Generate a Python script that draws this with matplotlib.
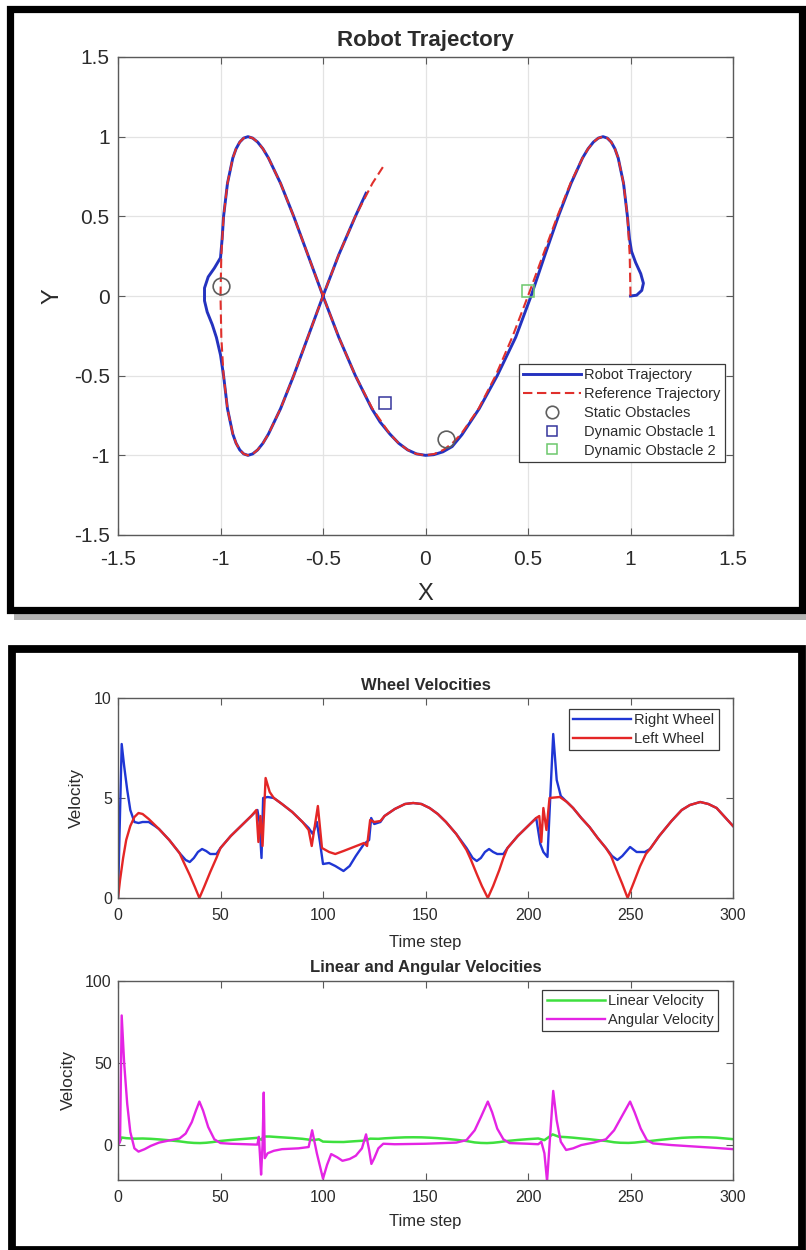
import matplotlib.pyplot as plt
from matplotlib.patches import Rectangle

plt.rcParams['font.family'] = ['Liberation Sans', 'DejaVu Sans']

# Reference trajectory (x, y)
ref_x = [1.000, 0.996, 0.985, 0.966, 0.940, 0.924, 0.906, 0.887, 0.866, 0.843,
         0.819, 0.793, 0.766, 0.707, 0.643, 0.574, 0.500, 0.423, 0.342, 0.259,
         0.174, 0.131, 0.087, 0.044, 0.000, -0.044, -0.087, -0.131, -0.174, -0.259,
         -0.342, -0.423, -0.500, -0.574, -0.643, -0.707, -0.766, -0.793, -0.819, -0.843,
         -0.866, -0.887, -0.906, -0.924, -0.940, -0.966, -0.985, -0.996, -1.000, -0.996,
         -0.985, -0.966, -0.940, -0.924, -0.906, -0.887, -0.866, -0.843, -0.819, -0.793,
         -0.766, -0.707, -0.643, -0.574, -0.500, -0.423, -0.342, -0.259, -0.208]
ref_y = [0.000, 0.259, 0.500, 0.707, 0.866, 0.924, 0.966, 0.991, 1.000, 0.991,
         0.966, 0.924, 0.866, 0.707, 0.500, 0.259, 0.000, -0.259, -0.500, -0.707,
         -0.866, -0.924, -0.966, -0.991, -1.000, -0.991, -0.966, -0.924, -0.866, -0.707,
         -0.500, -0.259, 0.000, 0.259, 0.500, 0.707, 0.866, 0.924, 0.966, 0.991,
         1.000, 0.991, 0.966, 0.924, 0.866, 0.707, 0.500, 0.259, 0.000, -0.259,
         -0.500, -0.707, -0.866, -0.924, -0.966, -0.991, -1.000, -0.991, -0.966, -0.924,
         -0.866, -0.707, -0.500, -0.259, 0.000, 0.259, 0.500, 0.707, 0.809]

# Robot trajectory (x, y)
robot_x = [1.000, 1.030, 1.055, 1.063, 1.050, 1.025, 1.005, 0.995, 0.985, 0.966,
           0.940, 0.924, 0.906, 0.887, 0.866, 0.843, 0.819, 0.793, 0.766, 0.710,
           0.648, 0.583, 0.515, 0.440, 0.350, 0.262, 0.178, 0.130, 0.085, 0.040,
           0.000, -0.044, -0.087, -0.131, -0.174, -0.222, -0.262, -0.342, -0.423, -0.500,
           -0.574, -0.643, -0.707, -0.766, -0.793, -0.819, -0.843, -0.866, -0.887, -0.906,
           -0.924, -0.940, -0.966, -0.985, -0.992, -1.000, -1.030, -1.060, -1.078, -1.078,
           -1.065, -1.040, -1.020, -1.000, -0.985, -0.966, -0.940, -0.924, -0.906, -0.887,
           -0.866, -0.843, -0.819, -0.793, -0.766, -0.707, -0.643, -0.574, -0.500, -0.423,
           -0.342, -0.290]
robot_y = [0.000, 0.005, 0.035, 0.080, 0.140, 0.210, 0.280, 0.360, 0.500, 0.707,
           0.866, 0.924, 0.966, 0.991, 1.000, 0.991, 0.966, 0.924, 0.866, 0.707,
           0.500, 0.259, 0.000, -0.259, -0.500, -0.707, -0.870, -0.945, -0.978, -0.996,
           -1.000, -0.991, -0.966, -0.924, -0.866, -0.790, -0.707, -0.500, -0.259, 0.000,
           0.259, 0.500, 0.707, 0.866, 0.924, 0.966, 0.991, 1.000, 0.991, 0.966,
           0.924, 0.866, 0.707, 0.500, 0.360, 0.240, 0.175, 0.120, 0.050, -0.030,
           -0.100, -0.180, -0.260, -0.370, -0.500, -0.707, -0.866, -0.924, -0.966, -0.991,
           -1.000, -0.991, -0.966, -0.924, -0.866, -0.707, -0.500, -0.259, 0.000, 0.259,
           0.500, 0.645]

# Obstacles
static_x = [-1.0, 0.1]
static_y = [0.06, -0.9]
dyn1_x = [-0.2]
dyn1_y = [-0.67]
dyn2_x = [0.5]
dyn2_y = [0.03]

# Wheel velocities (time step, value)
right_t = [0, 1.8, 3, 4.5, 6, 8, 10, 12, 15, 18,
           20, 25, 30, 33, 35, 37, 39, 41, 43, 45,
           48, 50, 55, 60, 65, 68, 69, 70, 70.8, 73,
           76, 80, 85, 90, 93, 95, 97, 98.5, 100, 103,
           106, 110, 113, 116, 120, 122.5, 123.5, 125, 128, 130,
           135, 140, 144, 148, 152, 156, 160, 165, 170, 173,
           175, 177, 179, 181, 183, 185, 188, 190, 195, 200,
           204, 206, 207.5, 209.5, 212.3, 214, 216, 219, 222, 226,
           230, 234, 238, 241, 243.6, 246, 249.8, 253, 257, 259.5,
           264, 270, 275, 279, 284, 288, 292, 296, 300]
right_v = [0.0, 7.7, 6.6, 5.4, 4.4, 3.8, 3.75, 3.8, 3.8, 3.6,
           3.45, 2.9, 2.25, 1.9, 1.8, 2.0, 2.3, 2.45, 2.35, 2.2,
           2.2, 2.5, 3.1, 3.6, 4.1, 4.4, 3.8, 2.0, 5.0, 5.05,
           5.0, 4.7, 4.3, 3.8, 3.5, 3.2, 3.8, 2.8, 1.7, 1.75,
           1.6, 1.35, 1.6, 2.1, 2.7, 2.9, 4.0, 3.7, 3.8, 4.1,
           4.45, 4.7, 4.75, 4.7, 4.5, 4.2, 3.8, 3.2, 2.5, 2.0,
           1.85, 2.0, 2.3, 2.45, 2.3, 2.2, 2.2, 2.5, 3.1, 3.6,
           4.0, 2.7, 2.3, 2.05, 8.2, 5.9, 5.1, 4.8, 4.5, 4.0,
           3.55, 3.0, 2.5, 2.1, 1.9, 2.1, 2.55, 2.3, 2.3, 2.45,
           3.1, 3.85, 4.4, 4.65, 4.8, 4.7, 4.5, 4.05, 3.6]

left_t = [0, 1, 2.5, 4, 6, 8, 10, 12, 15, 18,
          20, 25, 30, 32, 35, 37.5, 39.7, 42, 45, 48,
          50, 55, 60, 65, 67.5, 68.5, 69.5, 70.5, 72, 74,
          76, 80, 85, 90, 93, 94.5, 97.5, 99.5, 103, 106,
          110, 115, 120, 121.5, 123, 125, 128, 130, 135, 140,
          144, 148, 152, 156, 160, 165, 170, 172, 175, 177.5,
          180.4, 183, 186, 188, 190, 195, 200, 204, 205.5, 206.5,
          207.5, 209, 210.5, 215.5, 219, 222, 226, 230, 234, 238,
          240.5, 243.2, 246, 248.6, 251.5, 254.6, 257.5, 259.5, 264, 270,
          275, 279, 284, 288, 292, 296, 300]
left_v = [0.0, 0.9, 2.0, 2.9, 3.6, 4.05, 4.25, 4.2, 3.95, 3.65,
          3.45, 2.9, 2.25, 1.8, 1.15, 0.55, 0.0, 0.55, 1.3, 2.0,
          2.5, 3.1, 3.6, 4.1, 4.4, 2.8, 4.1, 2.6, 6.0, 5.3,
          5.0, 4.7, 4.3, 3.8, 3.4, 2.6, 4.6, 2.5, 2.3, 2.2,
          2.35, 2.55, 2.75, 2.6, 3.9, 3.8, 3.85, 4.1, 4.45, 4.7,
          4.75, 4.7, 4.5, 4.2, 3.8, 3.2, 2.4, 1.95, 1.2, 0.6,
          0.0, 0.6, 1.4, 2.0, 2.5, 3.1, 3.6, 4.0, 4.1, 2.8,
          4.5, 3.4, 5.0, 5.05, 4.8, 4.5, 4.0, 3.55, 3.0, 2.5,
          2.1, 1.4, 0.7, 0.0, 0.75, 1.57, 2.2, 2.45, 3.1, 3.85,
          4.4, 4.65, 4.8, 4.7, 4.5, 4.05, 3.6]

# Linear and angular velocities (time step, value)
lin_t = [0, 1.8, 4, 8, 12, 16, 20, 25, 30, 34,
         37, 40, 43, 46, 50, 55, 60, 65, 68, 70,
         71, 74, 78, 85, 90, 95, 98, 100, 105, 110,
         115, 120, 123, 127, 130, 135, 140, 144, 148, 152,
         156, 160, 165, 170, 174, 177, 180, 183, 186, 190,
         195, 200, 205, 208, 212, 215, 219, 222, 226, 230,
         234, 238, 242, 245, 249, 252, 255, 259.5, 264, 270,
         275, 279, 284, 288, 292, 296, 300]
lin_v = [0.0, 4.6, 4.2, 3.9, 4.0, 3.8, 3.45, 2.9, 2.25, 1.6,
         1.3, 1.2, 1.4, 1.8, 2.5, 3.1, 3.6, 4.1, 4.4, 3.2,
         5.2, 5.2, 4.85, 4.3, 3.8, 3.0, 3.5, 2.1, 1.9, 1.85,
         2.3, 2.7, 3.9, 3.8, 4.1, 4.45, 4.7, 4.75, 4.7, 4.5,
         4.2, 3.8, 3.2, 2.45, 1.6, 1.3, 1.2, 1.4, 1.8, 2.5,
         3.1, 3.6, 4.0, 3.0, 6.5, 5.1, 4.8, 4.5, 4.0, 3.55,
         3.0, 2.5, 1.7, 1.4, 1.3, 1.5, 1.9, 2.45, 3.1, 3.85,
         4.4, 4.65, 4.8, 4.7, 4.5, 4.05, 3.6]

ang_t = [0, 1, 1.8, 3, 4.5, 6, 8, 10, 13, 16,
         20, 25, 30, 33, 36, 38, 39.7, 41.5, 44, 47,
         50, 55, 60, 67, 68, 68.7, 69.2, 69.8, 70.5, 71.1,
         71.6, 73, 76, 80, 88, 93, 94.7, 97, 100, 102,
         104, 107, 109.5, 113, 116, 119, 121, 122.5, 123.6, 125,
         127, 129.4, 135, 150, 165, 170, 174, 177, 180.4, 182.5,
         185, 188, 191, 200, 205, 206.5, 208, 209.3, 210.5, 212.3,
         214, 216, 218.6, 222, 226, 232, 238, 242, 246, 249.8,
         252, 255, 258, 261, 270, 280, 290, 300]
ang_v = [0, 2, 79, 50, 25, 8, -2, -4, -2.5, -0.5,
         1.5, 2.8, 4, 7, 14, 21, 26.5, 21, 11, 3.5,
         1.2, 0.8, 0.6, 0.3, 0.3, 5, -5, -18, 0, 32,
         -8, -5, -3.5, -2.5, -2, -1.2, 9, -5, -20.5, -12,
         -5.5, -7.5, -9.6, -8.5, -6.5, -2, 6.5, -3, -11.5, -8,
         -2, 0.8, 0.5, 0.8, 1.5, 3, 9, 17, 26.5, 20,
         10, 3.5, 1.2, 0.8, 0.5, 2, -5, -22, 0, 33,
         15, 2, -3, -2, 0, 1.5, 3.5, 9, 18, 26.5,
         20, 10, 3, 1, 0, -0.8, -1.6, -2.5]

TXT = '#2b2b2b'
AXC = '#5a5a5a'


# figure-pixel helpers (figure is 806 x 1250 px)
def fx(px):
    return px / 806.0


def fy(py):
    return 1.0 - py / 1250.0


def style_axes(ax, tick_size, xpad, ypad):
    ax.tick_params(direction='in', top=True, right=True, length=5, width=0.8,
                   colors=AXC, labelcolor=TXT, labelsize=tick_size)
    ax.tick_params(axis='x', pad=xpad)
    ax.tick_params(axis='y', pad=ypad)
    for sp in ax.spines.values():
        sp.set_color(AXC)
        sp.set_linewidth(1.0)


def make_legend(ax, anchor, size, spacing=0.3, markerscale=1.0):
    leg = ax.legend(loc='upper right', bbox_to_anchor=anchor, fontsize=size,
                    frameon=True, fancybox=False, framealpha=1, edgecolor='#3a3a3a',
                    borderpad=0.3, handlelength=4.0, handletextpad=0.2,
                    labelspacing=spacing, markerscale=markerscale, borderaxespad=0)
    leg.get_frame().set_linewidth(0.9)
    for t in leg.get_texts():
        t.set_color(TXT)
    return leg


fig = plt.figure(figsize=(8.06, 12.5), dpi=100)

# ---- panel frames ----
fig.add_artist(Rectangle((fx(14), fy(620)), fx(806) - fx(14), fy(612) - fy(620),
                         transform=fig.transFigure, facecolor='#b4b4b4', edgecolor='none'))
fig.add_artist(Rectangle((fx(9.5), fy(609.5)), fx(802) - fx(9.5), fy(8.5) - fy(609.5),
                         transform=fig.transFigure, fill=False, edgecolor='black', lw=5.2))
fig.add_artist(Rectangle((fx(11.5), fy(1250)), fx(802) - fx(11.5), fy(649) - fy(1250),
                         transform=fig.transFigure, fill=False, edgecolor='black', lw=5.6))

# ---- robot trajectory ----
ax = fig.add_axes([fx(118), fy(535), fx(733) - fx(118), fy(57) - fy(535)])
ax.plot(robot_x, robot_y, color='#2432bf', lw=2.1, label='Robot Trajectory', zorder=3)
ax.plot(ref_x, ref_y, '--', color='#e0302c', lw=1.5, dashes=(4.5, 2.2),
        label='Reference Trajectory', zorder=4)
ax.plot(static_x, static_y, 'o', ms=12, mfc='none', mec='#5e5e5e', mew=1.2,
        ls='none', label='Static Obstacles', zorder=5)
ax.plot(dyn1_x, dyn1_y, 's', ms=9, mfc='none', mec='#36369c', mew=1.1,
        ls='none', label='Dynamic Obstacle 1', zorder=5)
ax.plot(dyn2_x, dyn2_y, 's', ms=9, mfc='none', mec='#6cc86c', mew=1.1,
        ls='none', label='Dynamic Obstacle 2', zorder=5)
ax.set_xlim(-1.5, 1.5)
ax.set_ylim(-1.5, 1.5)
ax.set_xticks([-1.5, -1, -0.5, 0, 0.5, 1, 1.5])
ax.set_yticks([-1.5, -1, -0.5, 0, 0.5, 1, 1.5])
ax.set_xticklabels(['-1.5', '-1', '-0.5', '0', '0.5', '1', '1.5'])
ax.set_yticklabels(['-1.5', '-1', '-0.5', '0', '0.5', '1', '1.5'])
ax.grid(True, color='#e3e3e3', lw=0.9)
ax.set_axisbelow(True)
style_axes(ax, 15, 11, 6)
ax.set_title('Robot Trajectory', fontsize=16, fontweight='bold', color=TXT,
             y=1.034, va='center', pad=0)
ax.set_xlabel('X', fontsize=17, color=TXT)
ax.xaxis.set_label_coords(0.5, -0.124)
ax.xaxis.label.set_va('center')
ax.set_ylabel('Y', fontsize=17, color=TXT)
ax.yaxis.set_label_coords(-0.106, 0.5)
ax.yaxis.label.set_va('center')
make_legend(ax, (0.987, 0.358), 10.5, spacing=0.33, markerscale=0.75)

# ---- wheel velocities ----
ax1 = fig.add_axes([fx(118), fy(898), fx(733) - fx(118), fy(698) - fy(898)])
ax1.plot(right_t, right_v, color='#1f36d4', lw=1.7, label='Right Wheel')
ax1.plot(left_t, left_v, color='#e42626', lw=1.7, label='Left Wheel')
ax1.set_xlim(0, 300)
ax1.set_ylim(0, 10)
ax1.set_xticks([0, 50, 100, 150, 200, 250, 300])
ax1.set_yticks([0, 5, 10])
style_axes(ax1, 11.5, 7, 4.5)
ax1.set_title('Wheel Velocities', fontsize=12, fontweight='bold', color=TXT,
              y=1.06, va='center', pad=0)
ax1.set_xlabel('Time step', fontsize=12, color=TXT)
ax1.xaxis.set_label_coords(0.5, -0.22)
ax1.xaxis.label.set_va('center')
ax1.set_ylabel('Velocity', fontsize=12.5, color=TXT)
ax1.yaxis.set_label_coords(-0.067, 0.5)
ax1.yaxis.label.set_va('center')
make_legend(ax1, (0.977, 0.945), 10.5)

# ---- linear and angular velocities ----
ax2 = fig.add_axes([fx(118), fy(1180), fx(733) - fx(118), fy(981) - fy(1180)])
ax2.plot(lin_t, lin_v, color='#3ee03e', lw=1.8, label='Linear Velocity')
ax2.plot(ang_t, ang_v, color='#e424e4', lw=1.7, label='Angular Velocity')
ax2.set_xlim(0, 300)
ax2.set_ylim(-21.3, 100)
ax2.set_xticks([0, 50, 100, 150, 200, 250, 300])
ax2.set_yticks([0, 50, 100])
style_axes(ax2, 11.5, 7, 4.5)
ax2.set_title('Linear and Angular Velocities', fontsize=12, fontweight='bold',
              color=TXT, y=1.07, va='center', pad=0)
ax2.set_xlabel('Time step', fontsize=12, color=TXT)
ax2.xaxis.set_label_coords(0.5, -0.211)
ax2.xaxis.label.set_va('center')
ax2.set_ylabel('Velocity', fontsize=12.5, color=TXT)
ax2.yaxis.set_label_coords(-0.08, 0.5)
ax2.yaxis.label.set_va('center')
make_legend(ax2, (0.976, 0.955), 10.5)

fig.savefig('out.png', dpi=100)
